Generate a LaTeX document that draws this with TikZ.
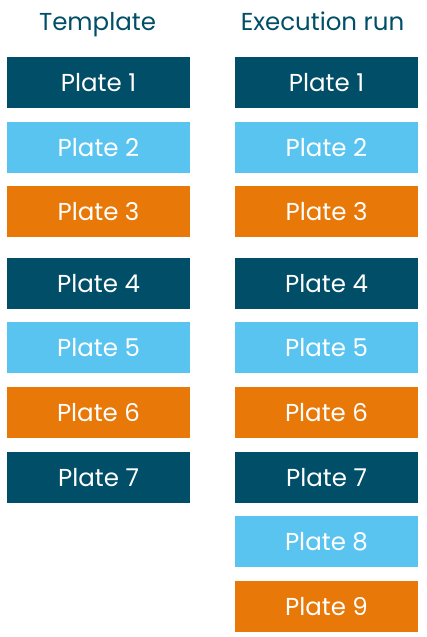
\documentclass[tikz,border=0pt]{standalone}
\usepackage{fontspec}
\setmainfont{Poppins}
\definecolor{darkteal}{HTML}{004E67}
\definecolor{lightblue}{HTML}{5AC4F0}
\definecolor{orangeb}{HTML}{E87807}
\begin{document}
\begin{tikzpicture}[x=1pt,y=-1pt,
  plate/.style={minimum width=183pt,minimum height=50.7pt,inner sep=0pt,text=white,font=\fontsize{24.5}{28}\selectfont,anchor=north},
  pdark/.style={plate,fill=darkteal},
  plight/.style={plate,fill=lightblue},
  porange/.style={plate,fill=orangeb},
  title/.style={text=darkteal,font=\fontsize{24.5}{28}\selectfont,inner sep=0pt,anchor=base}]
\useasboundingbox (0,0) rectangle (426,637);
\node[title] (t1) at (97.5,30.5) {Template};
\node[title] (t2) at (322.5,30.5) {Execution run};
\foreach \c/\n [count=\i] in {98.5/L,326.5/R}{
  \node[pdark]   (\n1) at (\c,57)  {Plate 1};
  \node[plight]  (\n2) at (\c,122) {Plate 2};
  \node[porange] (\n3) at (\c,186) {Plate 3};
  \node[pdark]   (\n4) at (\c,258) {Plate 4};
  \node[plight]  (\n5) at (\c,322) {Plate 5};
  \node[porange] (\n6) at (\c,387) {Plate 6};
  \node[pdark]   (\n7) at (\c,452) {Plate 7};
}
\node[plight]  (R8) at (326.5,516) {Plate 8};
\node[porange] (R9) at (326.5,581) {Plate 9};
\end{tikzpicture}
\end{document}
